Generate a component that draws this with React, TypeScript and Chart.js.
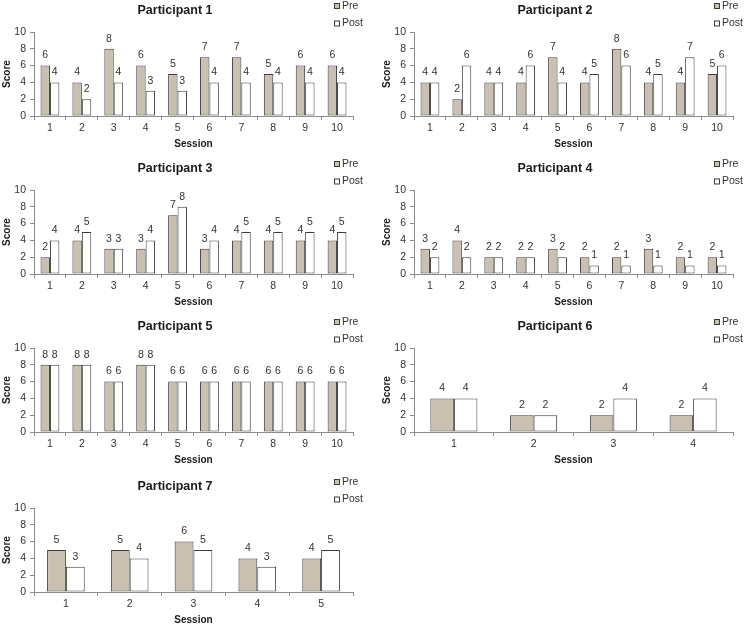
import React, { useEffect, useRef } from "react";
import { Chart, registerables } from "chart.js";

Chart.register(...registerables);

// ---------- data ----------
const sessions10 = ["1", "2", "3", "4", "5", "6", "7", "8", "9", "10"];
const sessions4 = ["1", "2", "3", "4"];
const sessions5 = ["1", "2", "3", "4", "5"];
const seriesNames = ["Pre", "Post"];
const yMin = 0;
const yMax = 10;
const yStep = 2;

const p1Pre = [6, 4, 8, 6, 5, 7, 7, 5, 6, 6];
const p1Post = [4, 2, 4, 3, 3, 4, 4, 4, 4, 4];
const p2Pre = [4, 2, 4, 4, 7, 4, 8, 4, 4, 5];
const p2Post = [4, 6, 4, 6, 4, 5, 6, 5, 7, 6];
const p3Pre = [2, 4, 3, 3, 7, 3, 4, 4, 4, 4];
const p3Post = [4, 5, 3, 4, 8, 4, 5, 5, 5, 5];
const p4Pre = [3, 4, 2, 2, 3, 2, 2, 3, 2, 2];
const p4Post = [2, 2, 2, 2, 2, 1, 1, 1, 1, 1];
const p5Pre = [8, 8, 6, 8, 6, 6, 6, 6, 6, 6];
const p5Post = [8, 8, 6, 8, 6, 6, 6, 6, 6, 6];
const p6Pre = [4, 2, 2, 2];
const p6Post = [4, 2, 4, 4];
const p7Pre = [5, 5, 6, 4, 4];
const p7Post = [3, 4, 5, 3, 5];

// ---------- style ----------
const FONT = "'Liberation Sans', Arial, Helvetica, sans-serif";
const PRE_COLOR = "#c9c0af";
const POST_COLOR = "#ffffff";
const BAR_BORDER = "#3c3c3c";
const AXIS_COLOR = "#8c8c8c";
const TEXT_COLOR = "#333333";
const TITLE_COLOR = "#1a1a1a";

const CANVAS_H = 150;
const Y_AXIS_W = 34;
const X_AXIS_H = 34;
const PAD_TOP = 32;
const PLOT_RIGHT = 353;

type PanelCfg = {
  title: string;
  labels: string[];
  pre: number[];
  post: number[];
  left: number;
  top: number;
  width: number;
};

const panels: PanelCfg[] = [
  { title: "Participant 1", labels: sessions10, pre: p1Pre, post: p1Post, left: 0, top: 0, width: 372 },
  { title: "Participant 2", labels: sessions10, pre: p2Pre, post: p2Post, left: 380, top: 0, width: 364 },
  { title: "Participant 3", labels: sessions10, pre: p3Pre, post: p3Post, left: 0, top: 158, width: 372 },
  { title: "Participant 4", labels: sessions10, pre: p4Pre, post: p4Post, left: 380, top: 158, width: 364 },
  { title: "Participant 5", labels: sessions10, pre: p5Pre, post: p5Post, left: 0, top: 316, width: 372 },
  { title: "Participant 6", labels: sessions4, pre: p6Pre, post: p6Post, left: 380, top: 316, width: 364 },
  { title: "Participant 7", labels: sessions5, pre: p7Pre, post: p7Post, left: 0, top: 476, width: 372 },
];

const overlayPlugin = {
  id: "overlay",
  afterDatasetsDraw(chart: any) {
    const ctx = chart.ctx;
    ctx.save();
    ctx.font = `10.5px ${FONT}`;
    ctx.fillStyle = TEXT_COLOR;
    ctx.textAlign = "center";
    ctx.textBaseline = "middle";
    chart.data.datasets.forEach((ds: any, di: number) => {
      const meta = chart.getDatasetMeta(di);
      meta.data.forEach((el: any, i: number) => {
        ctx.fillText(String(ds.data[i]), el.x, el.y - 10);
      });
    });
    ctx.restore();
  },
  afterDraw(chart: any, _args: any, opts: any) {
    const ctx = chart.ctx;
    ctx.save();
    // title
    ctx.font = `bold 12.5px ${FONT}`;
    ctx.fillStyle = TITLE_COLOR;
    ctx.textAlign = "center";
    ctx.textBaseline = "middle";
    ctx.fillText(opts.title, 175, 10.5);
    // legend
    const rows = [
      { name: seriesNames[0], color: PRE_COLOR, y: 6 },
      { name: seriesNames[1], color: POST_COLOR, y: 23.5 },
    ];
    ctx.font = `10.5px ${FONT}`;
    ctx.textAlign = "left";
    rows.forEach((r) => {
      ctx.fillStyle = r.color;
      ctx.fillRect(334.5, r.y - 2.5, 5, 5);
      ctx.strokeStyle = BAR_BORDER;
      ctx.lineWidth = 1;
      ctx.strokeRect(334.5, r.y - 2.5, 5, 5);
      ctx.fillStyle = TEXT_COLOR;
      ctx.fillText(r.name, 342, r.y);
    });
    ctx.restore();
  },
};

function Panel({ cfg }: { cfg: PanelCfg }) {
  const ref = useRef<HTMLCanvasElement>(null);
  useEffect(() => {
    if (!ref.current) return;
    const chart = new Chart(ref.current, {
      type: "bar",
      data: {
        labels: cfg.labels,
        datasets: [
          {
            label: seriesNames[0],
            data: cfg.pre,
            backgroundColor: PRE_COLOR,
            borderColor: BAR_BORDER,
            borderWidth: 1,
            borderSkipped: false,
            categoryPercentage: 0.59,
            barPercentage: 1,
          },
          {
            label: seriesNames[1],
            data: cfg.post,
            backgroundColor: POST_COLOR,
            borderColor: BAR_BORDER,
            borderWidth: 1,
            borderSkipped: false,
            categoryPercentage: 0.59,
            barPercentage: 1,
          },
        ],
      },
      options: {
        animation: false,
        responsive: false,
        devicePixelRatio: 1,
        layout: {
          padding: { top: PAD_TOP, left: 0, right: cfg.width - PLOT_RIGHT, bottom: 0 },
        },
        plugins: {
          legend: { display: false },
          title: { display: false },
          tooltip: { enabled: false },
          overlay: { title: cfg.title },
        } as any,
        scales: {
          x: {
            afterFit: (s: any) => {
              s.height = X_AXIS_H;
            },
            grid: {
              offset: true,
              drawOnChartArea: false,
              drawTicks: true,
              tickLength: 4,
              color: AXIS_COLOR,
            },
            border: { display: true, color: AXIS_COLOR, width: 1 },
            ticks: {
              color: TEXT_COLOR,
              font: { family: FONT, size: 10.5 },
              padding: 2,
              maxRotation: 0,
            },
            title: {
              display: true,
              text: "Session",
              color: TITLE_COLOR,
              font: { family: FONT, size: 10, weight: "bold", lineHeight: 1.2 },
              padding: { top: 0, bottom: 0 },
            },
          },
          y: {
            min: yMin,
            max: yMax,
            afterFit: (s: any) => {
              s.width = Y_AXIS_W;
            },
            grid: {
              drawOnChartArea: false,
              drawTicks: true,
              tickLength: 4,
              color: AXIS_COLOR,
            },
            border: { display: true, color: AXIS_COLOR, width: 1 },
            ticks: {
              stepSize: yStep,
              color: TEXT_COLOR,
              font: { family: FONT, size: 10.5 },
              padding: 4,
            },
            title: {
              display: true,
              text: "Score",
              color: TITLE_COLOR,
              font: { family: FONT, size: 10, weight: "bold", lineHeight: 1.2 },
              padding: { top: 1.5, bottom: 0 },
            },
          },
        },
      },
      plugins: [overlayPlugin as any],
    });
    return () => chart.destroy();
  }, [cfg]);
  return (
    <canvas
      ref={ref}
      width={cfg.width}
      height={CANVAS_H}
      style={{ position: "absolute", left: cfg.left, top: cfg.top, width: cfg.width, height: CANVAS_H }}
    />
  );
}

export default function App() {
  return (
    <div
      style={{
        position: "fixed",
        left: 0,
        top: 0,
        width: 744,
        height: 624,
        overflow: "hidden",
        background: "#ffffff",
      }}
    >
      {panels.map((p) => (
        <Panel key={p.title} cfg={p} />
      ))}
    </div>
  );
}
